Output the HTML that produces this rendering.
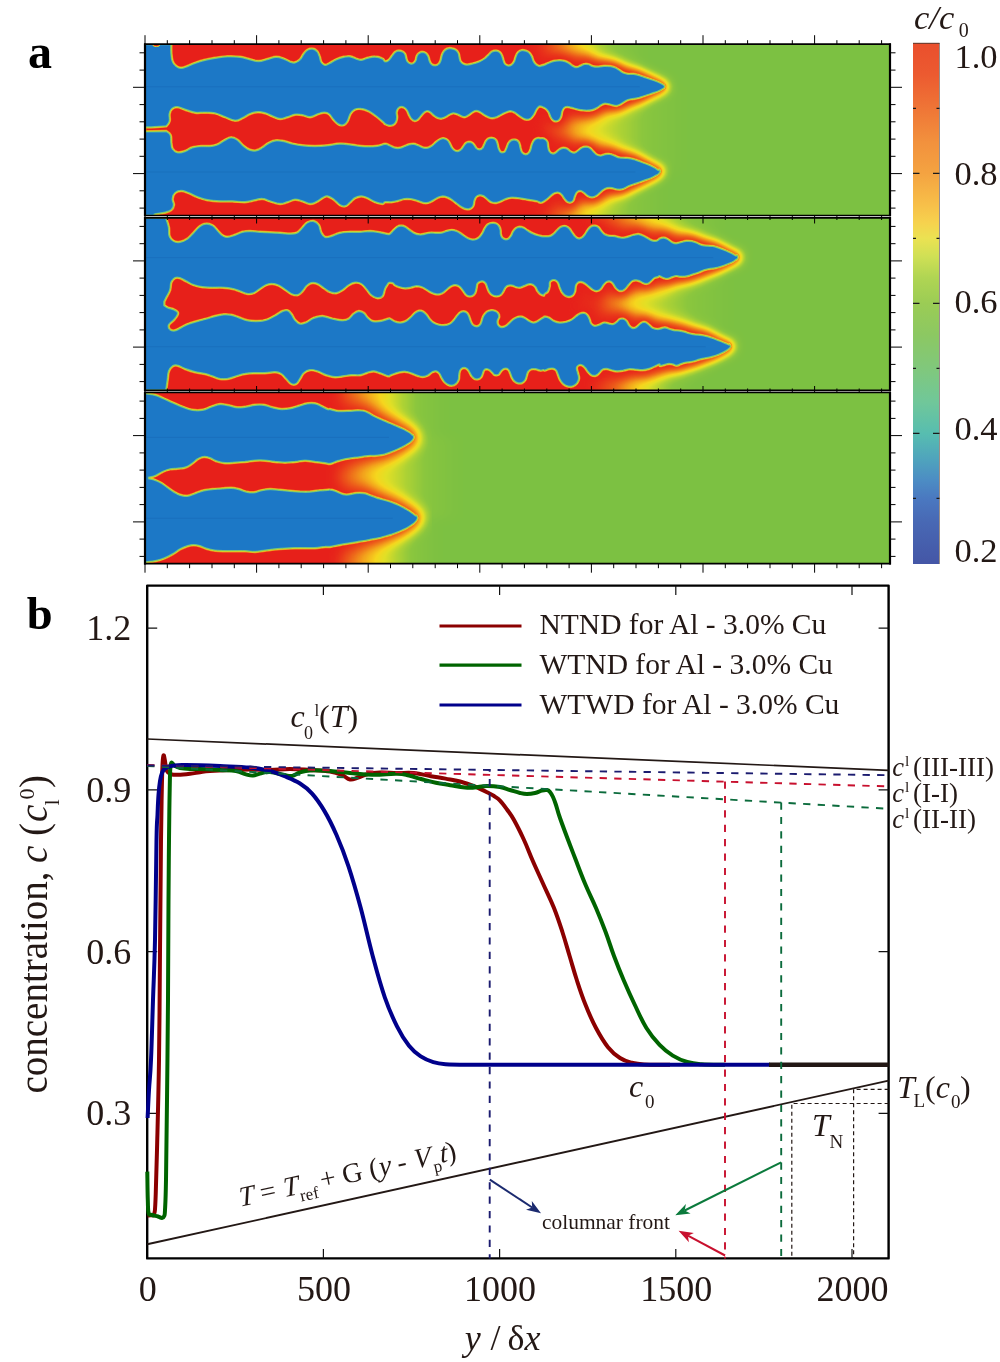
<!DOCTYPE html>
<html><head><meta charset="utf-8"><title>Figure</title><style>html,body{margin:0;padding:0;background:#fff}svg{display:block}</style></head><body>
<svg width="1000" height="1362" viewBox="0 0 1000 1362" font-family="'Liberation Serif', serif" fill="#231815">
<defs>
<filter id="cmap" x="0" y="0" width="100%" height="100%" filterUnits="objectBoundingBox" color-interpolation-filters="sRGB"><feColorMatrix type="matrix" values="0 0 0 1 0  0 0 0 1 0  0 0 0 1 0  0 0 0 0 1"/><feComponentTransfer><feFuncR type="table" tableValues="0.490 0.510 0.529 0.549 0.596 0.643 0.690 0.756 0.821 0.886 0.925 0.965 0.961 0.957 0.953 0.945 0.937 0.929 0.922 0.914 0.906"/><feFuncG type="table" tableValues="0.757 0.765 0.773 0.780 0.796 0.812 0.827 0.844 0.861 0.878 0.859 0.839 0.769 0.698 0.627 0.542 0.458 0.373 0.292 0.210 0.129"/><feFuncB type="table" tableValues="0.259 0.254 0.248 0.243 0.230 0.217 0.204 0.186 0.167 0.149 0.133 0.118 0.115 0.112 0.110 0.107 0.105 0.102 0.102 0.102 0.102"/></feComponentTransfer></filter>
<filter id="bigblur0" x="-5%" y="-60%" width="110%" height="220%" color-interpolation-filters="sRGB"><feGaussianBlur stdDeviation="7"/></filter>
<filter id="blur0" x="-5%" y="-60%" width="110%" height="220%" color-interpolation-filters="sRGB"><feGaussianBlur stdDeviation="4.8"/></filter>
<linearGradient id="hg00" gradientUnits="userSpaceOnUse" x1="528" y1="0" x2="645" y2="0"><stop offset="0" stop-color="#000" stop-opacity="1"/><stop offset="0.402" stop-color="#000" stop-opacity="0.5"/><stop offset="0.769" stop-color="#000" stop-opacity="0.1"/><stop offset="1" stop-color="#000" stop-opacity="0"/></linearGradient>
<linearGradient id="hg01" gradientUnits="userSpaceOnUse" x1="538" y1="0" x2="683.6" y2="0"><stop offset="0" stop-color="#000" stop-opacity="1"/><stop offset="0.343" stop-color="#000" stop-opacity="0.5"/><stop offset="0.769" stop-color="#000" stop-opacity="0.1"/><stop offset="1" stop-color="#000" stop-opacity="0"/></linearGradient>
<linearGradient id="hg02" gradientUnits="userSpaceOnUse" x1="535" y1="0" x2="665" y2="0"><stop offset="0" stop-color="#000" stop-opacity="1"/><stop offset="0.385" stop-color="#000" stop-opacity="0.5"/><stop offset="0.769" stop-color="#000" stop-opacity="0.1"/><stop offset="1" stop-color="#000" stop-opacity="0"/></linearGradient>
<clipPath id="cp0"><rect x="145" y="44.2" width="745" height="171.3"/></clipPath>
<path id="den0" d="M145 44.2L171.2 44.2C171.2 44.1 171.2 42.1 171.2 43.8C171.2 45.4 171 49 171.2 52.5C171.5 56 171.5 58.5 172.5 61.2C173.5 64 174.5 64.9 176.2 66.2C178 67.6 179 68 181.2 68C183.5 68 184.8 67.2 187.5 66.2C190.2 65.2 191.5 64.2 195 63C198.5 61.8 201 61 205 60C209 59 210.5 58.7 215 58C219.5 57.3 222.5 56.7 227.5 56.5C232.5 56.3 235.5 56.4 240 57C244.5 57.6 246.2 58.6 250 59.5C253.8 60.4 255.2 61.3 258.8 61.2C262.2 61.2 264 60.1 267.5 59.2C271 58.4 273 57.1 276.2 57C279.5 56.9 281 57.8 283.8 58.8C286.5 59.7 287.8 61 290 61.8C292.2 62.5 293 63 295 62.5C297 62 298.2 61.2 300 59.5C301.8 57.8 302.2 55.6 303.8 53.8C305.2 51.9 305.8 51 307.5 50C309.2 49 310.6 48.5 312.5 48.8C314.4 49 315.6 49.8 317 51.2C318.4 52.8 318.6 54.1 319.5 56.2C320.4 58.4 320.1 60.2 321.2 62C322.4 63.8 323.2 64.8 325 65C326.8 65.2 327.8 64.1 330 63C332.2 61.9 333.5 60.7 336.2 59.5C339 58.3 341 57.6 343.8 57C346.5 56.4 347.5 56.1 350 56.5C352.5 56.9 354 58 356.2 58.8C358.5 59.5 359 60.1 361.2 60C363.5 59.9 364.8 58.6 367.5 58C370.2 57.4 372 56.6 375 56.8C378 56.9 380.5 57.8 382.5 58.8C384.5 59.7 383.7 61.3 385 61.5C386.3 61.8 387.6 61.1 389 59.9C390.4 58.7 390.9 57.2 392.2 55.6C393.5 54 394.1 52.9 395.4 51.9C396.7 51 397.2 50.9 398.6 50.8C400 50.7 401 51 402.3 51.6C403.6 52.2 404.2 52.7 405 54C405.8 55.3 405.6 56.5 406.1 58C406.6 59.5 406.6 60.4 407.4 61.5C408.2 62.6 409.1 63.3 410.3 63.6C411.5 63.9 412.4 63.8 413.5 63.1C414.6 62.5 415.1 61.7 415.7 60.4C416.4 59.1 416.1 57.8 416.7 56.4C417.3 55 417.5 54.4 418.6 53.5C419.7 52.6 420.7 52 422.1 51.9C423.6 51.9 424.6 52.3 425.8 53.2C427 54.1 427.5 54.9 428.2 56.4C428.9 57.9 428.8 59.3 429.5 60.9C430.2 62.5 430.5 63.5 431.7 64.4C432.9 65.3 434 65.6 435.4 65.5C436.8 65.5 437.5 65.1 438.6 64.1C439.7 63.1 440 62.1 440.7 60.4C441.3 58.7 441.2 57.4 441.8 55.6C442.4 53.8 442.8 52.7 443.9 51.3C445 49.9 445.9 49.3 447.4 48.7C448.9 48.1 449.8 48.2 451.4 48.4C453 48.6 454 48.8 455.4 49.7C456.8 50.6 457.5 51.4 458.3 52.9C459.1 54.4 459 55.5 459.4 57.2C459.8 58.9 459.7 59.9 460.5 61.2C461.3 62.5 462 63.2 463.4 63.9C464.8 64.6 465.5 64.8 467.4 64.7C469.3 64.7 470.6 64.2 473 63.6C475.4 63 477 62.6 479.4 61.5C481.8 60.5 483.1 59.7 485 58.3C486.9 56.9 487.6 55.8 489 54.5C490.4 53.1 490.8 52.3 492.2 51.6C493.6 50.9 494.7 50.6 496.2 50.8C497.7 51 498.7 51.3 499.9 52.4C501.1 53.5 501.4 54.5 502.1 56.1C502.8 57.7 502.8 58.8 503.4 60.4C504 62 504 63 505 64.1C506 65.1 506.9 65.6 508.2 65.7C509.5 65.8 510.5 65.6 511.7 64.7C512.9 63.8 513.4 62.9 514.3 61.2C515.1 59.5 515.1 58.2 515.9 56.4C516.6 54.6 516.9 53.6 518.1 52.4C519.3 51.2 520.3 50.6 521.8 50.3C523.3 50 524.3 50.3 525.8 50.8C527.3 51.3 528.1 51.7 529.3 52.9C530.5 54.1 531 55.1 531.9 56.7C532.7 58.4 532.6 59.6 533.5 61.2C534.3 62.8 535 63.7 536.2 64.7C537.4 65.7 538.5 65.9 539.4 66.2C540.3 66.4 539.7 66.1 540.8 65.8C541.9 65.6 543 65.4 544.8 64.7C546.6 64 547.7 63.2 549.6 62.5C551.5 61.7 552.3 61.3 554.4 60.9C556.5 60.5 557.9 60.3 560 60.4C562.1 60.5 563 60.7 564.8 61.2C566.6 61.7 567.2 62.2 568.8 63.1C570.4 64.1 571.2 65.2 572.8 66C574.4 66.8 575.2 67.3 576.8 67.3C578.4 67.2 579.2 66.3 580.8 65.7C582.4 65 583.2 64.3 584.8 64.1C586.4 63.8 587.2 64 588.8 64.4C590.4 64.8 591 65.8 592.8 66.3C594.6 66.8 595.4 66.9 597.6 66.8C599.8 66.7 601.4 66.1 604 66C606.6 65.9 608.2 66 610.4 66.3C612.6 66.6 613.4 66.9 615.2 67.6C617 68.3 617.6 69 619.2 70C620.8 71 621.4 71.9 623.2 72.7C625 73.5 625.9 73.7 628 74C630.1 74.3 631.4 73.7 633.6 74C635.8 74.3 636.8 74.6 639.2 75.3C641.6 76 643 76.7 645.6 77.5C648.2 78.4 649.6 78.8 652 79.6C654.4 80.4 655.7 80.9 657.6 81.7C659.5 82.5 660.3 82.9 661.6 83.6C662.9 84.3 663.4 84.8 664 85.2C664.6 85.6 664.4 85 664.5 85.5C664.7 85.9 664.7 87 664.5 87.5C664.4 88 664.6 87.6 664 88.1C663.4 88.5 662.9 89 661.6 89.7C660.3 90.4 659.5 90.8 657.6 91.6C655.7 92.4 654.4 92.7 652 93.5C649.6 94.3 648.2 94.8 645.6 95.6C643 96.4 641.6 97 639.2 97.7C636.8 98.3 635.7 98.4 633.6 98.8C631.5 99.2 630.6 99.1 628.8 99.6C627 100.1 626.4 100.6 624.8 101.5C623.2 102.4 622.4 103.2 620.8 104.1C619.2 104.9 618.4 105.5 616.8 105.7C615.2 105.9 614.4 105.5 612.8 105.2C611.2 104.9 610.4 104.4 608.8 104.1C607.2 103.8 606.4 103.4 604.8 103.6C603.2 103.8 602.4 104.3 600.8 105.2C599.2 106.1 598.6 107 596.8 107.9C595 108.9 594.1 109.5 592 110C589.9 110.5 588.6 110.5 586.4 110.5C584.2 110.5 582.9 110.3 580.8 110C578.7 109.7 577.9 109.4 576 108.9C574.1 108.4 573 108 571.2 107.6C569.4 107.2 568.6 106.7 567.2 106.8C565.8 106.9 565 107 564 107.9C563 108.9 562.7 109.9 562.1 111.6C561.5 113.3 561.8 114.7 561.1 116.4C560.5 118.1 560 119.1 558.9 120.1C557.8 121 557 121.3 555.7 121.2C554.4 121.1 553.5 120.6 552.5 119.6C551.4 118.6 551.1 117.8 550.4 116.4C549.7 115 549.6 113.8 548.8 112.4C548 111 547.5 110.2 546.4 109.2C545.3 108.2 544.5 107.9 543.2 107.3C541.9 106.7 541 106.4 540 106.3C539 106.3 539 106.4 538.3 107.1C537.5 107.9 537.1 108.5 536.2 110C535.3 111.5 534.9 113.1 533.8 114.8C532.7 116.5 532 117.5 530.6 118.5C529.2 119.4 528.2 119.7 526.6 119.6C525 119.5 524.2 118.9 522.6 118C521 117.1 520.2 116.4 518.6 115.3C517 114.2 516.2 113.2 514.6 112.4C513 111.6 512.2 111.2 510.6 111.1C509 111.1 508.4 111.4 506.6 112.1C504.8 112.7 503.7 113.4 501.8 114.3C499.9 115.3 498.9 116.1 497 116.9C495.1 117.6 494 118 492.2 118C490.4 118 489.8 117.5 488.2 116.9C486.6 116.2 485.8 115.8 484.2 114.8C482.6 113.8 481.8 112.9 480.2 112.1C478.6 111.3 477.7 110.8 476.2 110.8C474.7 110.8 474.1 111.3 472.7 112.1C471.2 112.9 470.5 113.8 469 114.8C467.5 115.8 466.6 116.7 465 116.9C463.4 117.1 462.6 116.5 461 115.9C459.4 115.3 458.6 114.5 457 114C455.4 113.5 454.6 113 453 113.2C451.4 113.4 450.6 114 449 114.8C447.4 115.6 446.6 116.5 445 117.2C443.4 117.9 442.6 118.4 441 118.5C439.4 118.5 438.4 118.2 437 117.5C435.6 116.9 435.1 116.3 433.8 115.3C432.5 114.3 431.9 113.2 430.6 112.4C429.3 111.6 428.7 111.1 427.4 111.1C426.1 111.1 425.5 111.4 424.2 112.4C422.9 113.4 422.3 114.5 421 115.9C419.7 117.4 419.1 118.6 417.8 119.6C416.5 120.6 415.9 120.9 414.6 120.7C413.3 120.6 412.5 120 411.4 118.8C410.3 117.6 409.9 116.5 409 114.8C408.1 113.1 408 111.9 407.1 110.5C406.1 109 405.4 108.3 404.2 107.6C403 106.9 402.2 106.6 401 106.8C399.8 107 399 107.3 398.1 108.4C397.2 109.5 396.7 110.6 396.5 112.4C396.3 114.2 397.1 115.3 397 117.2C396.9 119.1 396.7 120.5 395.9 122C395.1 123.5 394.4 124.2 393 124.9C391.6 125.6 390.6 125.7 389 125.5C387.4 125.3 386.1 124.5 385 123.9C383.9 123.3 385.5 124 383.8 122.5C382 121 379.2 118.5 376.2 116.2C373.2 114 371.8 112.8 368.8 111.2C365.8 109.8 364 109.1 361.2 108.8C358.5 108.4 357.1 108.5 355 109.5C352.9 110.5 352 111.4 350.5 113.8C349 116.1 348.9 119 347.5 121.2C346.1 123.5 345.5 124.3 343.8 125C342 125.7 340.8 125.5 338.8 124.5C336.8 123.5 335.8 122.2 333.8 120C331.8 117.8 330.8 115.2 328.8 113.8C326.8 112.2 326 112.4 323.8 112.5C321.5 112.6 320.2 113.3 317.5 114.2C314.8 115.2 313 116.8 310 117C307 117.2 305.5 115.5 302.5 115C299.5 114.5 298 114.1 295 114.5C292 114.9 290.5 116.2 287.5 117C284.5 117.8 283 118.9 280 118.8C277 118.6 275.5 117.4 272.5 116.2C269.5 115.1 268 113.8 265 113C262 112.2 260.5 111.8 257.5 112C254.5 112.2 253 112.5 250 113.8C247 115 245.5 116.7 242.5 118C239.5 119.3 238.5 120.7 235 120.5C231.5 120.3 229 118.5 225 117C221 115.5 219 114.2 215 113.2C211 112.3 209 112.7 205 112.5C201 112.3 199 113.1 195 112.5C191 111.9 188.5 110.6 185 109.5C181.5 108.4 180.1 107.2 177.5 107C174.9 106.8 173.6 107.4 172 108.8C170.4 110.1 170 111.2 169.5 113.8C169 116.2 170.2 118.8 169.5 121.2C168.8 123.8 166.9 125.2 166.2 126.2L151 127.3 L145 127.3 L145 131.5 L151 131.5L166.2 131.2C167.1 132 169.5 132.8 170.5 135C171.5 137.2 170.8 139.8 171.2 142.5C171.7 145.2 171.2 146.8 172.5 148.8C173.8 150.8 175 152 177.5 152.5C180 153 182 152.2 185 151.2C188 150.2 189.2 148.5 192.5 147.5C195.8 146.5 197.8 146.5 201.2 146.2C204.8 146 206.8 146.6 210 146.2C213.2 145.9 214.5 145.8 217.5 144.5C220.5 143.2 222.2 141.4 225 140C227.8 138.6 228.8 137.5 231.2 137.5C233.8 137.5 235 138.2 237.5 140C240 141.8 241.2 144.2 243.8 146.2C246.2 148.2 247.5 149.2 250 150C252.5 150.8 253.8 151 256.2 150.5C258.8 150 260 149 262.5 147.5C265 146 266 144.4 268.8 143C271.5 141.6 273.2 140.8 276.2 140.5C279.2 140.2 280.5 140.6 283.8 141.2C287 141.9 288.8 142.9 292.5 143.8C296.2 144.6 298 145 302.5 145.5C307 146 310 146.2 315 146.2C320 146.2 322.5 146 327.5 145.5C332.5 145 335 143.8 340 143.8C345 143.7 347.5 144.4 352.5 145C357.5 145.6 360 146.3 365 146.5C370 146.7 373.5 146.5 377.5 146C381.5 145.5 382.5 144.1 385 144C387.5 143.9 387.9 144.9 389.8 145.6C391.7 146.3 392.7 147.2 394.6 147.7C396.5 148.2 397.5 148.3 399.4 148C401.3 147.7 402.3 147.1 404.2 146.4C406.1 145.7 407.1 145 409 144.5C410.9 144 411.9 143.8 413.8 144C415.7 144.2 416.7 144.9 418.6 145.6C420.5 146.3 421.5 147.3 423.4 147.7C425.3 148.1 426.4 148.1 428.2 147.7C430 147.3 430.6 146.8 432.2 145.6C433.8 144.4 434.6 143.2 436.2 141.9C437.8 140.6 438.7 139.9 440.2 139.2C441.7 138.5 442.4 138.2 443.9 138.4C445.3 138.6 446.2 139 447.4 140C448.6 141 448.9 142 449.8 143.5C450.7 145.1 450.9 146.3 451.9 147.7C452.8 149.1 453.4 149.7 454.6 150.4C455.8 151.1 456.5 151.4 457.8 151.2C459.1 151 459.9 150.6 461 149.6C462.1 148.6 462.4 147.7 463.4 146.4C464.4 145.1 464.7 144.1 465.8 143.2C466.9 142.3 467.7 142 469 141.9C470.3 141.9 471.1 142.1 472.2 142.9C473.3 143.6 473.7 144.5 474.6 145.6C475.5 146.7 475.6 147.5 476.5 148.3C477.5 149.1 478.2 149.6 479.4 149.6C480.6 149.6 481.3 149.3 482.3 148.3C483.2 147.4 483.4 146.3 484.2 144.8C485 143.3 485.2 142.1 486.1 140.8C487.1 139.5 487.7 138.9 489 138.4C490.3 137.9 491.2 137.8 492.5 138.1C493.9 138.3 494.8 138.7 495.7 139.7C496.7 140.7 496.8 141.6 497.3 143.2C497.8 144.8 497.8 146.1 498.3 147.7C498.8 149.3 499.4 150.3 499.9 151.2C500.4 152.1 500.2 151.8 500.8 152.1C501.3 152.4 501.9 152.5 502.6 152.5C503.3 152.5 503.9 152.3 504.4 152C505 151.7 504.8 151.8 505.3 150.9C505.8 149.9 506.3 148.7 506.9 147.2C507.6 145.7 507.6 144.6 508.5 143.2C509.4 141.8 510.1 141 511.4 140.3C512.7 139.6 513.6 139.5 514.9 139.7C516.3 139.9 517.2 140.3 518.1 141.3C519.1 142.3 519.2 143.2 519.7 144.8C520.2 146.4 520.2 147.7 520.7 149.3C521.2 150.9 521.3 151.8 522.3 152.8C523.2 153.8 524.2 154.3 525.5 154.4C526.8 154.5 527.7 154.1 528.7 153.1C529.7 152.1 530 151 530.6 149.3C531.2 147.6 531.2 146.3 531.9 144.5C532.6 142.7 533.1 141.5 534.1 140.3C535.1 139.1 535.8 138.8 537 138.4C538.2 138 538.6 138.3 540 138.4C541.4 138.5 542.6 138.1 544 138.7C545.4 139.4 546.4 140.1 547.2 141.6C548 143.1 547.6 144.5 548 146.4C548.4 148.3 548.4 149.8 549.3 151.2C550.2 152.6 551.1 153.3 552.5 153.6C553.8 153.9 554.7 153.3 556 152.5C557.3 151.7 557.8 150.5 559.2 149.6C560.6 148.7 561.6 148.2 563.2 148C564.8 147.8 565.8 148.1 567.2 148.8C568.6 149.5 569 150.7 570.4 151.5C571.8 152.3 572.8 153 574.4 152.8C576 152.6 576.9 151.4 578.4 150.4C579.9 149.4 580.4 148.4 581.9 147.7C583.5 146.9 584.5 146.7 586.1 146.7C587.7 146.8 588.5 147.1 589.9 148C591.3 148.9 591.8 149.9 593.1 151.2C594.4 152.5 594.8 153.5 596.3 154.4C597.8 155.3 598.8 155.7 600.5 155.7C602.2 155.7 603 154.7 604.8 154.4C606.6 154.1 607.7 153.8 609.6 154.1C611.5 154.3 612.5 155 614.4 155.7C616.3 156.4 617.1 157.2 619.2 157.6C621.3 158 622.6 157.8 624.8 157.9C627 158.1 628.2 158 630.4 158.4C632.6 158.8 633.6 159.2 636 160C638.4 160.8 639.8 161.4 642.4 162.4C645 163.4 646.4 163.8 648.8 164.8C651.2 165.8 652.5 166.5 654.4 167.5C656.3 168.6 657.5 169.7 658.4 170.1C659.3 170.4 658.7 168.9 659.1 169.2C659.5 169.5 660.4 170.7 660.3 171.7C660.2 172.6 659.7 173.1 658.7 173.9C657.7 174.8 656.9 175.1 655.2 176C653.5 176.9 652.5 177.5 650.4 178.4C648.3 179.3 647 179.5 644.8 180.3C642.6 181.1 641.3 181.7 639.2 182.4C637.1 183.1 636.3 183.4 634.4 184C632.5 184.6 631.4 184.9 629.6 185.6C627.8 186.3 627.2 186.9 625.6 187.7C624 188.4 623.4 189 621.6 189.3C619.8 189.6 618.7 189.5 616.8 189.3C614.9 189 613.9 188.3 612 188C610.1 187.7 609 187.6 607.2 188C605.4 188.4 604.7 188.9 603.2 189.9C601.7 190.9 601 191.9 599.5 193.1C598.1 194.3 597.5 195.2 596 196C594.5 196.8 593.6 197.3 592 197.3C590.4 197.3 589.5 196.8 588 196C586.5 195.2 585.9 194.1 584.5 193.1C583 192.1 582.3 191.1 580.8 190.9C579.3 190.7 578.3 191 577.1 192C575.9 193 575.6 194.3 574.9 196C574.1 197.7 574.2 199.2 573.3 200.5C572.4 201.8 571.6 202.2 570.4 202.4C569.2 202.6 568.4 202.4 567.2 201.6C566 200.8 565.4 199.8 564.3 198.4C563.2 197 562.8 195.6 561.6 194.4C560.4 193.2 559.8 192.7 558.4 192.5C557 192.2 556 192.4 554.4 193.1C552.8 193.8 552 194.7 550.4 196C548.8 197.3 548 198.3 546.4 199.5C544.8 200.7 543.7 201.5 542.4 202.1C541.1 202.7 541.1 202.6 540 202.4C538.9 202.2 538.9 201.6 537 201.1C535.1 200.6 533.2 200.4 530.6 200C528 199.6 526.8 199.3 524.2 198.9C521.6 198.5 520.4 198.2 517.8 197.9C515.2 197.7 513.8 197.4 511.4 197.6C509 197.8 507.9 198.2 505.8 198.9C503.7 199.6 502.9 200.4 501 201.1C499.1 201.9 498.1 202.5 496.2 202.7C494.3 202.9 493.2 202.8 491.4 202.1C489.6 201.4 489 200.4 487.4 199.2C485.8 198 485 196.8 483.4 196C481.8 195.2 480.8 195 479.4 195.2C478 195.4 477.2 195.7 476.2 196.8C475.2 197.9 474.9 199 474.3 200.8C473.7 202.6 474.1 204.1 473.3 205.6C472.6 207.1 471.9 207.8 470.6 208.5C469.3 209.2 468.4 209.4 466.6 209.1C464.8 208.9 463.7 208.3 461.8 207.2C459.9 206.1 458.9 205.1 457 203.7C455.1 202.2 454.1 201.3 452.2 200C450.3 198.7 449.3 198 447.4 197.3C445.5 196.5 444.5 196.3 442.6 196.3C440.7 196.4 439.7 196.8 437.8 197.6C435.9 198.4 434.9 199.5 433 200.5C431.1 201.5 430.1 202.3 428.2 202.7C426.3 203.2 425.6 203.2 423.4 202.7C421.2 202.3 419.6 201.2 417 200.5C414.4 199.7 413.2 199.2 410.6 198.9C408 198.6 406.8 198.5 404.2 198.9C401.6 199.3 400.4 200.2 397.8 200.8C395.2 201.4 394 201.8 391.4 202.1C388.8 202.3 386.8 201.7 385 202.1C383.2 202.4 384.5 203.8 382.5 203.8C380.5 203.7 378 203.2 375 202C372 200.8 370.2 199.2 367.5 198C364.8 196.8 363.8 196.2 361.2 196.2C358.8 196.2 357.2 196.8 355 198C352.8 199.2 352 200.8 350 202.5C348 204.2 347 205.8 345 206.2C343 206.8 342.2 206.3 340 205C337.8 203.7 336.2 201.2 333.8 199.5C331.2 197.8 329.8 196.6 327.5 196.2C325.2 195.9 324.8 196.8 322.5 198C320.2 199.2 318.8 200.8 316.2 202C313.8 203.2 312.8 203.9 310 203.8C307.2 203.6 305.5 202.1 302.5 201.2C299.5 200.4 298 199.3 295 199.5C292 199.7 290.5 201.2 287.5 202C284.5 202.8 283.5 203.9 280 203.8C276.5 203.6 273.5 202.2 270 201.2C266.5 200.2 265.5 199 262.5 198.8C259.5 198.5 258.5 199.3 255 200C251.5 200.7 249.5 201.8 245 202C240.5 202.2 237.5 201.4 232.5 201.2C227.5 201.1 225 201.5 220 201.2C215 201 212 200.8 207.5 200C203 199.2 201.2 198.4 197.5 197C193.8 195.6 192 194.2 188.8 193C185.5 191.8 184 190.8 181.2 190.8C178.5 190.8 176.8 191.4 175 193C173.2 194.6 172.8 196.3 172.5 198.8C172.2 201.2 174 202.8 173.8 205C173.5 207.2 173 208.5 171.2 210C169.5 211.5 168.2 211.7 165 212.5C161.8 213.3 157 213.7 155 214.2C153 214.8 155 215.2 155 215.5L145 215.5 Z"/>
<clipPath id="dc0"><use href="#den0"/></clipPath>
<filter id="bigblur1" x="-5%" y="-60%" width="110%" height="220%" color-interpolation-filters="sRGB"><feGaussianBlur stdDeviation="7"/></filter>
<filter id="blur1" x="-5%" y="-60%" width="110%" height="220%" color-interpolation-filters="sRGB"><feGaussianBlur stdDeviation="4.8"/></filter>
<linearGradient id="hg10" gradientUnits="userSpaceOnUse" x1="585" y1="0" x2="721.5" y2="0"><stop offset="0" stop-color="#000" stop-opacity="1"/><stop offset="0.462" stop-color="#000" stop-opacity="0.5"/><stop offset="0.769" stop-color="#000" stop-opacity="0.1"/><stop offset="1" stop-color="#000" stop-opacity="0"/></linearGradient>
<linearGradient id="hg11" gradientUnits="userSpaceOnUse" x1="575" y1="0" x2="731" y2="0"><stop offset="0" stop-color="#000" stop-opacity="1"/><stop offset="0.365" stop-color="#000" stop-opacity="0.5"/><stop offset="0.769" stop-color="#000" stop-opacity="0.1"/><stop offset="1" stop-color="#000" stop-opacity="0"/></linearGradient>
<linearGradient id="hg12" gradientUnits="userSpaceOnUse" x1="590" y1="0" x2="696.6" y2="0"><stop offset="0" stop-color="#000" stop-opacity="1"/><stop offset="0.422" stop-color="#000" stop-opacity="0.5"/><stop offset="0.769" stop-color="#000" stop-opacity="0.1"/><stop offset="1" stop-color="#000" stop-opacity="0"/></linearGradient>
<clipPath id="cp1"><rect x="145" y="217.8" width="745" height="172.5"/></clipPath>
<path id="den1" d="M145 217.8L166.2 217.8C166.2 218 165.8 216.8 166.2 218.8C166.8 220.7 168.1 224 168.8 227.5C169.4 231 168.5 233.5 169.5 236.2C170.5 239 171.7 240.1 173.8 241.2C175.8 242.4 177.2 242.5 180 242C182.8 241.5 184.8 240.7 187.5 238.8C190.2 236.8 191.2 235 193.8 232.5C196.2 230 197.5 228 200 226.2C202.5 224.5 203.8 223.9 206.2 223.8C208.8 223.6 210.2 224.2 212.5 225.5C214.8 226.8 215.5 228.5 217.5 230.5C219.5 232.5 220.5 234.2 222.5 235.5C224.5 236.8 225 237.1 227.5 237C230 236.9 232 236 235 235C238 234 239.5 232.8 242.5 232C245.5 231.2 246.5 231.2 250 231.2C253.5 231.2 256 231.8 260 232C264 232.2 266 232.3 270 232.5C274 232.7 276 232.8 280 233C284 233.2 286.5 233.8 290 233.8C293.5 233.7 295 233.8 297.5 232.5C300 231.2 300.5 229.5 302.5 227.5C304.5 225.5 305.2 223.8 307.5 222.5C309.8 221.2 311.5 220.8 313.8 221.2C316 221.8 317.2 222.8 318.8 225C320.2 227.2 320 230.1 321.2 232.5C322.5 234.9 323 236.2 325 237C327 237.8 328.2 237.1 331.2 236.2C334.2 235.4 336.2 233.8 340 233C343.8 232.2 346 232.2 350 232C354 231.8 356 232.2 360 232C364 231.8 366 231.2 370 231.2C374 231.3 376.4 231.9 380 232.5C383.6 233.1 386 234 388 234.2C390 234.5 389 234.5 390 233.8C391 233.1 391.8 232 393.2 230.6C394.6 229.2 395.6 227.9 397.2 226.9C398.8 226 399.6 225.8 401.2 225.8C402.8 225.8 403.6 226.1 405.2 226.9C406.8 227.7 407.4 228.6 409.2 229.8C411 231 411.9 232 414 233C416.1 234 417.4 234.4 419.6 234.6C421.8 234.8 423 234.2 425.2 233.8C427.4 233.4 428.6 232.8 430.8 232.7C433 232.5 434.2 233 436.4 233C438.6 233 439.9 233.1 442 232.7C444.1 232.3 444.9 231.6 446.8 231.1C448.7 230.6 449.7 230.1 451.6 230.1C453.5 230.1 454.6 230.4 456.4 231.1C458.2 231.7 458.8 232.3 460.4 233.3C462 234.3 462.8 235.1 464.4 236.2C466 237.3 466.8 237.9 468.4 238.6C470 239.3 470.8 239.6 472.4 239.7C474 239.8 475 239.6 476.4 239.1C477.8 238.5 478.4 238.2 479.6 237C480.8 235.8 481.5 234.7 482.5 233C483.5 231.3 483.7 230.2 484.7 228.5C485.7 226.9 486.2 225.8 487.6 224.7C489 223.6 490 223.3 491.6 223.1C493.2 222.8 494.2 222.9 495.6 223.4C497 223.9 497.8 224.5 498.8 225.8C499.8 227.1 500 228.1 500.4 229.8C500.8 231.5 500.3 232.7 500.7 234.3C501.1 235.9 501.4 236.8 502.3 237.8C503.3 238.8 504.2 239.2 505.5 239.4C506.8 239.6 507.6 239.4 508.7 238.6C509.9 237.8 510.4 236.8 511.3 235.4C512.2 234 512.2 232.8 513.2 231.4C514.2 230 514.8 229.1 516.1 228.2C517.4 227.3 518.1 227 519.6 226.9C521.1 226.9 522 227.1 523.6 227.9C525.2 228.6 525.8 229.5 527.6 230.6C529.4 231.7 530.3 232.4 532.4 233.3C534.5 234.3 535.9 234.8 538 235.4C540.1 236 541.4 236.1 542.8 236.4C544.2 236.6 543.6 236.6 545 236.5C546.4 236.5 548 236.7 549.8 236.2C551.6 235.7 552.2 235.1 553.8 233.8C555.4 232.5 556.2 230.9 557.8 229.5C559.4 228 560.2 227.2 561.8 226.6C563.4 226 564.3 225.9 565.8 226.3C567.3 226.7 568 227.2 569.3 228.5C570.6 229.8 571 231.1 572.2 232.7C573.4 234.3 573.8 235.3 575.1 236.5C576.4 237.7 577.2 238.4 578.6 238.6C580 238.8 580.8 238.3 582.1 237.5C583.4 236.6 583.8 235.8 585 234.3C586.2 232.7 586.7 231.3 587.9 229.8C589.1 228.3 589.7 227.4 591.1 226.6C592.5 225.8 593.4 225.6 594.9 225.8C596.4 226 597.3 226.3 598.6 227.4C599.9 228.5 600.1 229.7 601.3 231.1C602.5 232.5 603 233.3 604.5 234.3C606.1 235.2 607 235.5 609 235.9C611 236.3 612.5 235.9 614.6 236.2C616.7 236.5 617.5 237.2 619.4 237.5C621.3 237.8 622.3 238 624.2 237.8C626.1 237.6 627.1 237.1 629 236.5C630.9 235.9 631.9 235.4 633.8 234.9C635.7 234.5 636.7 234.1 638.6 234.3C640.5 234.5 641.5 235 643.4 235.9C645.3 236.7 646.4 237.6 648.2 238.6C650 239.6 650.8 240.3 652.5 240.7C654.3 241.1 655.5 241.1 657 240.7C658.5 240.3 658.6 239.2 660 238.6C661.4 238 662.4 237.6 664 237.8C665.6 238 666.4 238.5 668 239.4C669.6 240.3 670.4 241.5 672 242.3C673.6 243.1 674.2 243.4 676 243.4C677.8 243.4 678.7 242.8 680.8 242.3C682.9 241.8 684.2 241.2 686.4 241C688.6 240.8 689.9 240.9 692 241.3C694.1 241.7 694.9 242.2 696.8 242.9C698.7 243.7 699.5 244.4 701.6 245C703.7 245.6 705 245.6 707.2 245.8C709.4 246 710.6 245.7 712.8 246.1C715 246.5 716.2 247 718.4 247.7C720.6 248.5 721.9 249 724 249.8C726.1 250.6 727 251.1 728.8 251.9C730.6 252.7 731.4 253 732.8 253.8C734.2 254.6 735.2 255.5 736 255.7C736.8 255.9 736.5 254.5 736.9 254.8C737.3 255.1 738.1 256.3 738.1 257.3C738.1 258.3 737.2 259.4 736.9 259.8C736.6 260.2 737.1 259.1 736.5 259.4C735.8 259.7 735 260.7 733.6 261.5C732.2 262.3 731.4 262.6 729.6 263.4C727.8 264.2 726.7 264.6 724.8 265.3C722.9 266 722.1 266.3 720 266.9C717.9 267.5 716.6 267.8 714.4 268.2C712.2 268.6 710.9 268.6 708.8 269C706.7 269.4 705.9 269.5 704 270.1C702.1 270.8 701.1 271.5 699.2 272.2C697.3 272.9 696.3 273.2 694.4 273.8C692.5 274.4 691.5 274.9 689.6 275.4C687.7 275.9 686.7 276.3 684.8 276.5C682.9 276.7 681.8 276.6 680 276.5C678.2 276.4 677.6 275.8 676 275.9C674.4 276 673.6 276.5 672 277C670.4 277.5 669.6 278.4 668 278.6C666.4 278.8 665.6 278.6 664 278.1C662.4 277.6 661 276.6 660 276.2C659 275.8 659.2 276.1 658.8 276.2C658.3 276.4 658.6 276.7 657.8 277C657 277.3 655.9 277.1 654.6 277.8C653.3 278.5 652.7 279.6 651.4 280.7C650.1 281.8 649.6 282.9 648.2 283.4C646.8 283.9 645.8 283.8 644.2 283.4C642.6 283 641.8 282 640.2 281.3C638.6 280.7 637.8 280.3 636.2 280.2C634.6 280.1 633.6 280.2 632.2 281C630.8 281.8 630.3 282.8 629 284.2C627.7 285.6 627.1 286.9 625.8 288.2C624.5 289.5 624 290.2 622.6 290.6C621.2 291 620 290.9 618.6 290.3C617.2 289.6 616.5 288.8 615.4 287.4C614.3 286 614.1 284.6 613 283.4C611.9 282.2 611.1 281.6 609.8 281.3C608.5 281 607.9 281.1 606.6 281.8C605.3 282.5 604.6 283.6 603.4 285C602.2 286.4 602 287.8 600.7 289C599.4 290.2 598.5 290.8 597 290.9C595.5 291.1 594.6 290.7 593 289.8C591.4 288.9 590.6 287.9 589 286.6C587.4 285.3 586.6 284.4 585 283.4C583.4 282.4 582.4 282 581 281.8C579.6 281.6 578.9 281.8 577.8 282.6C576.7 283.4 576.3 284.1 575.7 285.8C575.2 287.5 575.6 289.1 575.1 290.9C574.5 292.8 574.2 293.9 573 295.1C571.8 296.2 570.6 296.6 569 296.7C567.4 296.7 566.4 296.4 565 295.4C563.6 294.4 562.9 293.5 561.8 291.9C560.7 290.2 560.5 288.9 559.7 287.1C559 285.2 559 284 558.1 282.6C557.3 281.2 556.6 280.7 555.4 280.2C554.2 279.7 553.3 279.8 552.2 280.2C551.1 280.6 550.3 281 549.8 282.3C549.3 283.6 549.9 284.8 549.5 286.6C549.1 288.4 548.8 290 547.9 291.4C547 292.8 545.8 292.8 545 293.5C544.2 294.2 544 294.6 543.8 295C543.5 295.4 544.3 295.6 543.6 295.4C542.9 295.2 541.6 295 540.4 294.1C539.2 293.2 538.5 292.3 537.5 290.9C536.6 289.5 536.6 288.4 535.6 287.1C534.6 285.8 533.8 285.1 532.4 284.5C531 283.9 530 283.9 528.4 284.2C526.8 284.5 526 285.2 524.4 285.8C522.8 286.4 522 287.1 520.4 287.4C518.8 287.7 518 287.5 516.4 287.1C514.8 286.7 514 285.8 512.4 285.5C510.8 285.2 509.8 285.1 508.4 285.5C507 285.9 506.5 286.2 505.5 287.4C504.5 288.6 504.3 289.9 503.3 291.4C502.3 292.9 501.8 294.1 500.4 295.1C499 296 498 296.2 496.4 296.2C494.8 296.2 493.8 295.9 492.4 295.1C491 294.2 490.2 293.4 489.2 291.9C488.2 290.3 488 289.1 487.3 287.4C486.6 285.7 486.6 284.6 485.7 283.4C484.8 282.2 484 281.6 482.8 281.3C481.6 281 480.7 281.3 479.6 281.8C478.5 282.3 477.8 282.6 477.2 283.9C476.6 285.2 476.8 286.4 476.4 288.2C476 290 475.9 291.5 475.1 293C474.3 294.5 473.7 295.1 472.4 295.7C471.1 296.4 470.1 296.5 468.7 296.2C467.3 295.9 466.7 295.3 465.5 294.1C464.3 292.9 464 291.8 462.8 290.3C461.6 288.8 461 287.7 459.6 286.6C458.2 285.5 457.2 285.2 455.6 285C454 284.8 453.2 285.1 451.6 285.8C450 286.5 449.2 287.4 447.6 288.7C446 290 445.2 291.1 443.6 292.2C442 293.3 441.2 293.7 439.6 294.1C438 294.5 437.3 294.4 435.6 294.1C433.9 293.8 433 293.4 431.3 292.5C429.5 291.7 428.7 290.9 426.8 289.8C424.9 288.7 424.1 287.8 422 287.1C419.9 286.3 418.6 286.1 416.4 286.1C414.2 286.2 413 287 410.8 287.4C408.6 287.8 407.4 288.3 405.2 288.2C403 288.1 401.7 287.7 399.6 287.1C397.5 286.4 396.1 285.8 394.8 285C393.5 284.2 394.2 283.8 393.3 283.3C392.3 282.8 391 282.6 390 282.6C389 282.6 388.8 282.8 388.3 283.2C387.8 283.6 388.2 283.4 387.5 284.5C386.8 285.6 386 286.4 385 288.8C384 291.1 384 294.4 382.5 296.2C381 298.1 379.8 298.2 377.5 298C375.2 297.8 373.5 296.9 371.2 295C369 293.1 368.2 291 366.2 288.8C364.2 286.5 363.5 285 361.2 283.8C359 282.5 357.5 282.2 355 282.5C352.5 282.8 351.2 283.5 348.8 285C346.2 286.5 345 288.4 342.5 290C340 291.6 338.8 292.6 336.2 293C333.8 293.4 332.5 293 330 292C327.5 291 326.2 289.6 323.8 288C321.2 286.4 320 284.8 317.5 283.8C315 282.8 313.5 282.5 311.2 283C309 283.5 308 284.6 306.2 286.2C304.5 287.9 304.2 289.5 302.5 291.2C300.8 293 299.8 294.5 297.5 295C295.2 295.5 293.8 294.9 291.2 293.8C288.8 292.6 287.5 291.1 285 289.5C282.5 287.9 281.2 286.6 278.8 285.5C276.2 284.4 275 283.9 272.5 283.8C270 283.6 268.8 284 266.2 285C263.8 286 262.5 287.1 260 288.8C257.5 290.4 256.2 292 253.8 293C251.2 294 250.2 294.1 247.5 293.8C244.8 293.4 243 292.2 240 291.2C237 290.2 236 289.5 232.5 288.8C229 288 226.5 287.8 222.5 287.5C218.5 287.2 216.5 287.6 212.5 287.5C208.5 287.4 206.2 287.5 202.5 287C198.8 286.5 197 286.1 193.8 285C190.5 283.9 189 282.6 186.2 281.2C183.5 279.9 182.2 278.6 180 278C177.8 277.4 176.8 277.1 175 278C173.2 278.9 172.2 280.1 171.2 282.5C170.2 284.9 171 287 170 290C169 293 167.4 295.2 166.2 297.5C165.1 299.8 164.7 300.7 164.2 301.5L164.2 305.5C164.9 305.9 165.6 306.7 167.5 307.5C169.4 308.3 171.8 308.6 173.8 309.5C175.8 310.4 176.8 310.9 177.5 312C178.2 313.1 178.2 313.4 177.5 315C176.8 316.6 175.5 318 173.8 320C172 322 169.5 323.1 168.8 325C168 326.9 168.8 328.4 170 329.5C171.2 330.6 172.8 330.9 175 330.5C177.2 330.1 178.5 328.9 181.2 327.5C184 326.1 185.5 325 188.8 323.8C192 322.5 194 322.2 197.5 321.2C201 320.2 202.8 319.8 206.2 318.8C209.8 317.8 211.5 317.1 215 316.2C218.5 315.4 220.5 314.8 223.8 314.5C227 314.2 228.2 314.4 231.2 315C234.2 315.6 235.5 316.4 238.8 317.5C242 318.6 243.8 319.8 247.5 320.5C251.2 321.2 253.5 321.4 257.5 321.2C261.5 321.1 263.8 320.8 267.5 319.5C271.2 318.2 273.2 316.6 276.2 315C279.2 313.4 280.2 312.1 282.5 311.2C284.8 310.4 285.8 310 287.5 310.5C289.2 311 289.8 311.9 291.2 313.8C292.8 315.6 293.2 318 295 320C296.8 322 297.8 323.2 300 323.8C302.2 324.2 303.5 323.6 306.2 322.5C309 321.4 310.5 319.2 313.8 318C317 316.8 318.8 316.1 322.5 316.2C326.2 316.4 328.5 317.9 332.5 318.8C336.5 319.6 339.2 320.5 342.5 320.5C345.8 320.5 346.5 320.1 348.8 318.8C351 317.4 351.8 315.2 353.8 313.8C355.8 312.2 356.8 311.4 358.8 311.2C360.8 311.1 362 311.8 363.8 313C365.5 314.2 365.8 315.9 367.5 317.5C369.2 319.1 370 320.5 372.5 321.2C375 322 376.9 321.7 380 321.2C383.1 320.8 386 319.5 388 319C390 318.5 388.6 318.4 390 318.9C391.4 319.4 392.7 320.8 394.8 321.6C396.9 322.4 398.2 322.8 400.4 322.7C402.6 322.6 403.9 322.2 406 321.1C408.1 320 409 318.9 410.8 317.3C412.6 315.7 413.2 314.4 414.8 313.1C416.4 311.8 417.2 311.2 418.8 310.9C420.4 310.6 421.3 310.8 422.8 311.5C424.3 312.3 425.1 313.2 426.5 314.7C427.9 316.3 428.3 317.6 429.7 319.2C431.1 320.8 431.7 321.6 433.5 322.7C435.3 323.8 436.6 324.3 438.8 324.8C441 325.3 442.2 325.5 444.4 325.3C446.6 325.1 448.1 324.7 450 323.7C451.9 322.6 452.6 321.6 454 320C455.4 318.4 455.9 317.2 457.2 315.7C458.5 314.2 459.1 313.3 460.4 312.5C461.7 311.6 462.6 311.4 463.9 311.5C465.3 311.6 466.1 312.1 467.1 313.1C468.2 314.2 468.5 315.1 469.2 316.8C469.9 318.5 470 319.9 470.8 321.6C471.6 323.3 471.9 324.3 473.2 325.3C474.5 326.2 475.8 326.6 477.2 326.4C478.6 326.2 479.4 325.6 480.4 324.3C481.4 323 481.4 321.7 482 320C482.6 318.3 482.6 317.3 483.6 315.7C484.6 314.1 485.4 313.1 486.8 312C488.2 310.9 489.2 310.6 490.8 310.4C492.4 310.2 493.4 310.3 494.8 310.9C496.2 311.4 497.1 311.9 498 313.1C498.9 314.3 499.2 315.3 499.1 316.8C499 318.3 497.7 319.2 497.5 320.8C497.3 322.4 497.3 323.5 498 324.8C498.7 326.1 499.8 326.9 501.2 327.2C502.6 327.5 503.6 327.2 505.2 326.4C506.8 325.6 507.6 324.6 509.2 323.2C510.8 321.8 511.6 320.7 513.2 319.5C514.8 318.3 515.6 317.8 517.2 317.3C518.8 316.7 519.6 316.6 521.2 316.8C522.8 317 523.6 317.5 525.2 318.4C526.8 319.3 527.6 320.3 529.2 321.1C530.8 322 531.6 322.6 533.2 322.7C534.8 322.8 535.6 322.4 537.2 321.6C538.8 320.8 539.9 319.7 541.2 318.9C542.5 318.1 542.8 318 543.6 317.6C544.4 317.2 543.9 316.7 545 316.8C546.1 316.9 547.2 317.1 549 317.9C550.8 318.8 551.7 320.2 553.8 321.1C555.9 322.1 557 322.5 559.4 322.7C561.8 322.9 563.4 322.6 565.8 322.1C568.2 321.5 569.3 321.2 571.4 320C573.5 318.8 574.4 317.6 576.2 316.3C578 315 578.6 314.2 580.2 313.6C581.8 313 582.8 312.8 584.2 313.1C585.6 313.4 586.3 314 587.4 315.2C588.5 316.4 588.7 317.5 589.5 319.2C590.2 320.9 590.1 322.3 591.1 323.7C592.1 325 592.9 325.7 594.6 325.9C596.3 326.1 597.5 325.4 599.4 324.8C601.3 324.2 602.3 322.9 604.2 322.7C606.1 322.5 607.2 323.4 609 323.7C610.8 324 611.5 324.6 613 324.3C614.5 324 615.3 323.1 616.7 322.1C618.1 321.1 618.5 319.8 619.9 319.2C621.2 318.6 622.1 318.5 623.4 318.9C624.7 319.3 625.5 319.8 626.6 321.1C627.7 322.4 627.9 323.9 629 325.3C630.1 326.7 630.8 327.6 632.2 328C633.6 328.4 634.5 328.2 635.9 327.5C637.3 326.9 637.8 325.8 639.1 324.8C640.4 323.8 640.9 322.9 642.3 322.4C643.6 321.9 644.5 321.9 645.8 322.4C647.1 322.9 647.7 323.7 649 324.8C650.3 325.9 650.9 327.1 652.5 328C654.1 328.9 655.5 329 657 329.1C658.5 329.3 658.4 329.1 660 328.8C661.6 328.5 662.9 327.5 664.8 327.5C666.7 327.6 667.7 328.5 669.6 329.1C671.5 329.7 672.5 330.1 674.4 330.4C676.3 330.7 677.3 330.5 679.2 330.7C681.1 331 682.1 331.2 684 331.7C685.9 332.2 686.7 332.7 688.8 333.3C690.9 333.8 692.2 334.1 694.4 334.4C696.6 334.7 697.8 334.6 700 334.9C702.2 335.2 703.4 335.5 705.6 336C707.8 336.5 709 336.9 711.2 337.6C713.4 338.3 714.6 338.8 716.8 339.7C719 340.5 720.5 341.2 722.4 341.9C724.3 342.7 725.1 342.9 726.4 343.5C727.7 344.1 728.5 344.7 729.1 344.8C729.7 344.9 729.2 343.6 729.5 343.9C729.8 344.2 730.7 345.5 730.7 346.4C730.7 347.3 730.4 347.5 729.6 348.3C728.8 349.1 728.2 349.6 726.9 350.4C725.6 351.2 724.9 351.6 723.2 352.5C721.5 353.3 720.3 354 718.4 354.7C716.5 355.5 715.5 355.7 713.6 356.3C711.7 356.9 710.7 357.2 708.8 357.6C706.9 358 705.9 358 704 358.4C702.1 358.8 701.1 359 699.2 359.5C697.3 360.1 696.3 360.6 694.4 361.1C692.5 361.6 691.5 361.8 689.6 362.1C687.7 362.4 686.6 362.3 684.8 362.7C683 363.1 682.4 363.4 680.8 364C679.2 364.6 678.4 365.5 676.8 365.6C675.2 365.7 674.4 364.7 672.8 364.3C671.2 363.9 670.4 363.6 668.8 363.7C667.2 363.8 666.6 364.4 664.8 364.8C663 365.2 661.1 366 660 365.9C658.9 365.8 660.5 364.2 659.4 364.3C658.3 364.4 656.7 365.5 654.6 366.4C652.5 367.3 651.4 368.1 649 368.8C646.6 369.5 645.2 369.9 642.6 370.1C640 370.2 638.8 369.8 636.2 369.6C633.6 369.4 632.4 369 629.8 369.1C627.2 369.3 626 370 623.4 370.4C620.8 370.8 619.4 371.3 617 371.2C614.6 371.1 613.5 370.6 611.4 370.1C609.3 369.6 608.4 368.9 606.6 368.8C604.8 368.7 603.7 368.8 602.3 369.6C600.8 370.4 600.7 371.6 599.4 372.8C598.1 374 597.4 375 595.9 375.5C594.3 376 593.3 375.9 591.7 375.2C590.2 374.5 589.5 373.4 588.2 372C586.9 370.6 586.5 369.3 585.3 368C584.1 366.7 583.5 365.8 582.1 365.3C580.8 364.7 579.7 364.7 578.6 365.3C577.5 365.8 576.8 366.5 576.7 368C576.5 369.5 577.4 370.7 577.8 372.8C578.2 374.9 579.1 376.3 578.9 378.4C578.8 380.5 578.2 381.7 577 383.2C575.8 384.7 574.8 385.4 573 386.1C571.2 386.7 570.1 386.8 568.2 386.4C566.3 386 565 385.3 563.4 384C561.8 382.7 561.3 381.8 560.2 380C559.1 378.2 558.9 376.8 558.1 374.9C557.3 373 557.2 371.7 556.2 370.4C555.2 369.1 554.4 368.8 553 368.5C551.6 368.2 550.6 368.4 549 368.8C547.4 369.2 546.1 370.2 545 370.4C543.9 370.6 544.5 369.9 543.6 369.9C542.7 369.9 542 370.6 540.4 370.4C538.8 370.2 537.4 369.4 535.6 369.1C533.8 368.9 533 368.7 531.6 369.1C530.2 369.5 529.4 370 528.4 371.2C527.4 372.4 527.4 373.4 526.8 375.2C526.2 377 526.2 378.5 525.2 380C524.2 381.5 523.4 382.2 522 382.9C520.6 383.5 519.5 383.5 518 383.2C516.5 382.9 515.7 382.4 514.5 381.3C513.3 380.2 512.8 379.2 511.9 377.6C511.1 376 511 374.9 510.3 373.3C509.6 371.7 509.4 370.6 508.4 369.6C507.4 368.6 506.5 368.4 505.2 368.5C503.9 368.6 503.1 369.1 502 370.1C500.9 371 500.3 372.4 499.6 373.3C498.9 374.2 499.2 374.2 498.6 374.6C497.9 375 497.3 375.2 496.4 375.2C495.5 375.2 494.9 375 494.2 374.7C493.6 374.4 494 374.5 493.2 373.6C492.4 372.7 491.3 371.3 490 370.4C488.7 369.5 488 369.2 486.8 369.1C485.6 369.1 484.9 369.2 484.1 370.1C483.3 370.9 483.4 371.9 482.8 373.3C482.2 374.7 482.2 375.9 481.2 377.1C480.2 378.3 479.3 378.9 478 379.2C476.7 379.5 475.8 379.4 474.5 378.7C473.2 378.1 472.7 377.4 471.6 376C470.5 374.6 470.2 373.2 469.2 371.7C468.2 370.2 467.8 369.2 466.5 368.5C465.2 367.7 464.1 367.6 462.8 368C461.5 368.4 460.8 369 460.1 370.4C459.3 371.8 459.4 373 459.1 374.9C458.8 376.8 459.2 378.2 458.5 380C457.8 381.8 457 382.9 455.6 384C454.2 385.1 453.2 385.5 451.6 385.6C450 385.7 449.1 385.3 447.6 384.5C446.1 383.7 445.3 383 444.1 381.6C442.9 380.2 442.5 379.3 441.5 377.6C440.6 375.9 440.4 374.6 439.3 373.3C438.2 372 437.6 371.4 436.1 371.2C434.6 371 433.6 371.5 431.9 372.3C430.2 373.2 429.4 374.6 427.6 375.5C425.8 376.4 424.9 376.8 422.8 376.8C420.7 376.8 419.4 376.2 417.2 375.5C415 374.8 413.8 374 411.6 373.3C409.4 372.5 408.2 371.9 406 371.7C403.8 371.4 402.6 371.6 400.4 372C398.2 372.4 396.9 372.9 394.8 373.6C392.7 374.3 391.4 375 390 375.5C388.6 376 390 376.5 388 376C386 375.5 382.9 373.9 380 373C377.1 372.1 376.2 371.4 373.8 371.2C371.2 371.1 370.2 371.8 367.5 372.5C364.8 373.2 363.2 374.5 360 375C356.8 375.5 354.8 374.8 351.2 375C347.8 375.2 345.8 375.9 342.5 376.2C339.2 376.6 338.2 377.2 335 377C331.8 376.8 329.8 376.1 326.2 375C322.8 373.9 320.8 372.2 317.5 371.2C314.2 370.2 312.8 369.6 310 370C307.2 370.4 305.8 371.2 303.8 373C301.8 374.8 301.5 376.6 300 378.8C298.5 380.9 298 382.8 296.2 383.8C294.5 384.8 293.2 384.8 291.2 383.8C289.2 382.8 288.2 380.8 286.2 378.8C284.2 376.8 283.5 375.1 281.2 373.8C279 372.4 278.2 372.1 275 372C271.8 371.9 269 372.8 265 373C261 373.2 259 372.9 255 373C251 373.1 248.8 373.1 245 373.8C241.2 374.4 239.8 375.2 236.2 376.2C232.8 377.2 230.8 378.2 227.5 378.8C224.2 379.2 223 379.2 220 378.8C217 378.2 215.5 377.2 212.5 376.2C209.5 375.2 208.5 374.6 205 373.8C201.5 372.9 199 373 195 372C191 371 188.5 370.1 185 368.8C181.5 367.4 180 366 177.5 365.5C175 365 174.2 365.1 172.5 366.2C170.8 367.4 169.8 368.5 168.8 371.2C167.8 374 168 376.4 167.5 380C167 383.6 166.5 387.2 166.2 389.2C166 391.3 166.2 390.1 166.2 390.3L145 390.3 Z"/>
<clipPath id="dc1"><use href="#den1"/></clipPath>
<filter id="blur2" x="-5%" y="-60%" width="110%" height="220%" color-interpolation-filters="sRGB"><feGaussianBlur stdDeviation="6.5"/></filter>
<linearGradient id="hg20" gradientUnits="userSpaceOnUse" x1="335" y1="0" x2="445.5" y2="0"><stop offset="0" stop-color="#000" stop-opacity="1"/><stop offset="0.452" stop-color="#000" stop-opacity="0.5"/><stop offset="0.769" stop-color="#000" stop-opacity="0.1"/><stop offset="1" stop-color="#000" stop-opacity="0"/></linearGradient>
<linearGradient id="hg21" gradientUnits="userSpaceOnUse" x1="332" y1="0" x2="459.4" y2="0"><stop offset="0" stop-color="#000" stop-opacity="1"/><stop offset="0.377" stop-color="#000" stop-opacity="0.5"/><stop offset="0.769" stop-color="#000" stop-opacity="0.1"/><stop offset="1" stop-color="#000" stop-opacity="0"/></linearGradient>
<linearGradient id="hg22" gradientUnits="userSpaceOnUse" x1="335" y1="0" x2="439" y2="0"><stop offset="0" stop-color="#000" stop-opacity="1"/><stop offset="0.433" stop-color="#000" stop-opacity="0.5"/><stop offset="0.769" stop-color="#000" stop-opacity="0.1"/><stop offset="1" stop-color="#000" stop-opacity="0"/></linearGradient>
<clipPath id="cp2"><rect x="145" y="392.5" width="745" height="171.2"/></clipPath>
<path id="den2" d="M145 392.5L146.2 392.5C146.2 392.7 144.5 393 146.2 393.5C148 394 151.8 394.1 155 395C158.2 395.9 159 396.5 162.5 398C166 399.5 168.5 400.8 172.5 402.5C176.5 404.2 178.5 405.2 182.5 406.8C186.5 408.2 188.5 409.4 192.5 410C196.5 410.6 198.8 410.6 202.5 410C206.2 409.4 207.8 407.9 211.2 406.8C214.8 405.6 216.5 404.5 220 404.2C223.5 404 225.2 404.9 228.8 405.5C232.2 406.1 234 407.2 237.5 407.5C241 407.8 242.8 407.2 246.2 406.8C249.8 406.2 251.5 405.4 255 405C258.5 404.6 260.2 404.5 263.8 405C267.2 405.5 269 406.6 272.5 407.5C276 408.4 277.8 409.1 281.2 409.2C284.8 409.4 286.5 409.1 290 408.5C293.5 407.9 295.2 407 298.8 406C302.2 405 304.2 404 307.5 403.5C310.8 403 312.2 403 315 403.5C317.8 404 318.8 404.9 321.2 406C323.8 407.1 325.8 408.6 327.5 409.2C329.2 409.9 328.2 409 330 409.3C331.8 409.6 333.8 410.5 336.4 410.9C339 411.3 339.9 411.2 342.8 411.2C345.7 411.2 347.8 411 350.8 410.9C353.8 410.7 355.4 410.4 358 410.4C360.6 410.4 361.5 410.4 363.6 410.9C365.7 411.4 366.5 411.8 368.4 412.8C370.3 413.8 371.1 414.6 373.2 415.7C375.3 416.8 376.6 417.4 378.8 418.4C381 419.4 382.2 419.8 384.4 420.8C386.6 421.8 387.8 422.2 390 423.2C392.2 424.2 393.4 424.6 395.6 425.6C397.8 426.6 399.1 427 401.2 428C403.3 429 404.2 429.4 406 430.4C407.8 431.4 408.7 431.9 410 432.8C411.3 433.7 411.8 434.5 412.4 434.9C413 435.2 412.5 434.2 412.8 434.6C413.1 435.1 414 436.1 414 437.1C414 438.1 413.5 438.7 412.9 439.7C412.2 440.6 411.9 441.1 410.8 441.9C409.7 442.8 409 443.1 407.6 444C406.2 444.9 405.4 445.4 403.6 446.4C401.8 447.4 400.7 447.9 398.8 448.8C396.9 449.7 395.9 450.1 394 450.9C392.1 451.7 391.1 452.1 389.2 452.8C387.3 453.5 386.3 453.9 384.4 454.4C382.5 454.9 381.5 454.9 379.6 455.2C377.7 455.5 376.7 455.6 374.8 455.7C372.9 455.8 372.1 455.6 370 455.7C367.9 455.8 366.6 456 364.4 456.3C362.2 456.6 361.2 457 358.8 457.3C356.4 457.6 355 457.6 352.4 457.9C349.8 458.2 348.6 458.4 346 458.9C343.4 459.4 341.8 459.8 339.6 460.5C337.4 461.1 336.7 461.4 334.8 462.1C332.9 462.7 332 463.5 330 463.7C328 463.9 328 463.4 325 463C322 462.6 319 462.2 315 461.8C311 461.2 309 460.5 305 460.5C301 460.5 299 461.4 295 461.8C291 462.1 289 462.5 285 462.5C281 462.5 279 462.1 275 461.8C271 461.4 269 460.8 265 460.5C261 460.2 259 460.2 255 460.5C251 460.8 249 461.4 245 461.8C241 462.1 239 462.2 235 462.5C231 462.8 228.8 463.3 225 463C221.2 462.7 219.2 462 216.2 461C213.2 460 212.5 458.9 210 458C207.5 457.1 206.2 456.5 203.8 456.8C201.2 457 200 457.8 197.5 459.2C195 460.8 193.8 462.6 191.2 464.2C188.8 465.9 187.8 466.6 185 467.5C182.2 468.4 180.5 468.1 177.5 468.5C174.5 468.9 173 468.6 170 469.2C167 469.9 165.5 470.4 162.5 471.8C159.5 473.1 157.8 474.9 155 476C152.2 477.1 150 477.2 148.8 477.5L148.8 478.5C150 478.8 152.5 479.1 155 480C157.5 480.9 158.8 481.5 161.2 483C163.8 484.5 165 485.8 167.5 487.5C170 489.2 171.2 490.2 173.8 491.8C176.2 493.2 177.2 494.1 180 495C182.8 495.9 184.5 496.3 187.5 496C190.5 495.7 191.8 494.6 195 493.5C198.2 492.4 200.2 491.4 203.8 490.5C207.2 489.6 208.8 489.6 212.5 489.2C216.2 488.9 218.8 488.8 222.5 488.5C226.2 488.2 228 487.9 231.2 488C234.5 488.1 235.8 488.5 238.8 489.2C241.8 490 243.2 491.1 246.2 491.8C249.2 492.4 250.8 492.8 253.8 492.5C256.8 492.2 258 491.1 261.2 490.5C264.5 489.9 266.2 489.4 270 489.2C273.8 489.1 276 489.6 280 490C284 490.4 286 490.6 290 491C294 491.4 296 491.6 300 491.8C304 491.9 306 492 310 491.8C314 491.5 316.5 490.9 320 490.5C323.5 490.1 325.5 490.2 327.5 490C329.5 489.8 328.5 489.5 330 489.7C331.5 489.8 332.9 490.2 334.8 490.8C336.7 491.4 337.7 492.1 339.6 492.9C341.5 493.6 342.5 494.2 344.4 494.5C346.3 494.8 347.3 494.7 349.2 494.5C351.1 494.3 351.9 493.8 354 493.5C356.1 493.2 357.4 492.9 359.6 492.9C361.8 492.9 363 493 365.2 493.5C367.4 494.1 368.6 494.8 370.8 495.6C373 496.4 374.2 496.9 376.4 497.7C378.6 498.4 379.8 498.6 382 499.3C384.2 499.9 385.4 500.2 387.6 500.9C389.8 501.6 391 501.9 393.2 502.8C395.4 503.7 396.7 504.2 398.8 505.2C400.9 506.2 401.7 506.5 403.6 507.6C405.5 508.7 406.6 509.4 408.4 510.5C410.2 511.6 411 512.2 412.4 513.2C413.8 514.2 414.8 515.1 415.6 515.6C416.4 516.1 416.1 515 416.5 515.5C416.9 516 417.7 517 417.7 518C417.7 519 417.1 519.7 416.4 520.7C415.7 521.8 415.1 522.3 414 523.3C412.9 524.2 412.2 524.6 410.8 525.5C409.4 526.5 408.6 527.1 406.8 528.1C405 529 403.9 529.5 402 530.3C400.1 531.2 399.3 531.6 397.2 532.4C395.1 533.2 393.8 533.7 391.6 534.5C389.4 535.2 388.2 535.4 386 536.1C383.8 536.7 382.6 537.1 380.4 537.7C378.2 538.2 377 538.4 374.8 538.8C372.6 539.2 371.4 539.5 369.2 539.9C367 540.3 366 540.5 363.6 540.9C361.2 541.3 359.8 541.6 357.2 542C354.6 542.4 353.4 542.7 350.8 543.1C348.2 543.5 347 543.7 344.4 544.1C341.8 544.5 340.9 544.7 338 545.2C335.1 545.7 332.6 546.5 330 546.8C327.4 547.1 328 546.5 325 546.8C322 547 319 547.8 315 548C311 548.2 309 548 305 548C301 548 299 547.9 295 548C291 548.1 289 548.2 285 548.5C281 548.8 279 548.9 275 549.2C271 549.6 269 550 265 550.5C261 551 259 551.6 255 551.8C251 551.9 249 551.1 245 551C241 550.9 239 551 235 551C231 551 229 551.1 225 551C221 550.9 218.8 551 215 550.5C211.2 550 209.2 549.4 206.2 548.5C203.2 547.6 202.5 546.7 200 546C197.5 545.3 196.2 545 193.8 545C191.2 545 190.2 545.1 187.5 546C184.8 546.9 183 547.6 180 549.2C177 550.9 175.8 552.4 172.5 554.2C169.2 556.1 167.2 557.1 163.8 558.5C160.2 559.9 158.5 560.2 155 561C151.5 561.8 148 561.7 146.2 562.2C144.5 562.8 146.2 563.4 146.2 563.7L145 563.7 Z"/>
<clipPath id="dc2"><use href="#den2"/></clipPath>
<filter id="bgblur" x="-5%" y="-20%" width="110%" height="140%" color-interpolation-filters="sRGB"><feGaussianBlur stdDeviation="5"/></filter>
<filter id="soft" x="-2%" y="-2%" width="104%" height="104%"><feGaussianBlur stdDeviation="0.45"/></filter>
<linearGradient id="cbar" x1="0" y1="0" x2="0" y2="1">
<stop offset="0" stop-color="#ea4f2d"/>
<stop offset="0.06" stop-color="#ec5a30"/>
<stop offset="0.125" stop-color="#ef7536"/>
<stop offset="0.19" stop-color="#f2913d"/>
<stop offset="0.25" stop-color="#f4a341"/>
<stop offset="0.31" stop-color="#f7bf49"/>
<stop offset="0.345" stop-color="#f6d24e"/>
<stop offset="0.375" stop-color="#ebe252"/>
<stop offset="0.41" stop-color="#cfe055"/>
<stop offset="0.45" stop-color="#b0d553"/>
<stop offset="0.5" stop-color="#9bcc55"/>
<stop offset="0.56" stop-color="#8cc862"/>
<stop offset="0.625" stop-color="#80c87c"/>
<stop offset="0.69" stop-color="#70c79a"/>
<stop offset="0.75" stop-color="#57bdb0"/>
<stop offset="0.8" stop-color="#4fa3bd"/>
<stop offset="0.84" stop-color="#4c8cc4"/>
<stop offset="0.875" stop-color="#4a78c0"/>
<stop offset="0.92" stop-color="#4868b4"/>
<stop offset="1" stop-color="#4456a6"/>
</linearGradient>
<marker id="mk" markerWidth="1" markerHeight="1"/>
</defs>
<rect width="1000" height="1362" fill="#fff"/>
<g clip-path="url(#cp0)">
<g filter="url(#cmap)">
<rect x="115" y="14.2" width="805" height="231.3" fill="#000" fill-opacity="0"/>
<g filter="url(#bgblur)">
<rect x="105" y="4.2" width="825" height="82.8" fill="url(#hg00)"/>
<rect x="105" y="87" width="825" height="84" fill="url(#hg01)"/>
<rect x="105" y="171" width="825" height="84.5" fill="url(#hg02)"/>
</g>
<g filter="url(#blur0)" fill="#000" stroke="#000" stroke-width="9.6" stroke-linejoin="round">
<use href="#den0"/>
<use href="#den0" transform="translate(0,-171.3)"/>
<use href="#den0" transform="translate(0,171.3)"/>
</g>
<g filter="url(#bigblur0)" fill="#000" stroke="#000" stroke-width="30" stroke-linejoin="round" opacity="0.85">
<use href="#den0" transform="translate(-30,0)"/>
<use href="#den0" transform="translate(-30,-171.3)"/>
<use href="#den0" transform="translate(-30,171.3)"/>
</g>
</g>
<g filter="url(#soft)">
<use href="#den0" fill="#1e78c6" stroke="#ef8a1e" stroke-width="2.9" style="paint-order:stroke"/>
<use href="#den0" fill="#1e78c6" stroke="#f0e022" stroke-width="1.5" style="paint-order:stroke"/>
<use href="#den0" fill="none" stroke="#4fb4a8" stroke-width="2" clip-path="url(#dc0)"/>
<use href="#den0" fill="none" stroke="#a8d640" stroke-width="0.9"/>
</g>
<ellipse cx="156.3" cy="44.6" rx="3.6" ry="2" fill="#e7211a" stroke="#d8d82a" stroke-width="1"/>
<path d="M145 86.8H639.8" stroke="#1560b0" stroke-opacity="0.35" stroke-width="1" fill="none"/>
<path d="M145 172H635.3" stroke="#1560b0" stroke-opacity="0.35" stroke-width="1" fill="none"/>
</g>
<g clip-path="url(#cp1)">
<g filter="url(#cmap)">
<rect x="115" y="187.8" width="805" height="232.5" fill="#000" fill-opacity="0"/>
<g filter="url(#bgblur)">
<rect x="105" y="177.8" width="825" height="80.2" fill="url(#hg10)"/>
<rect x="105" y="258" width="825" height="87" fill="url(#hg11)"/>
<rect x="105" y="345" width="825" height="85.3" fill="url(#hg12)"/>
</g>
<g filter="url(#blur1)" fill="#000" stroke="#000" stroke-width="9.6" stroke-linejoin="round">
<use href="#den1"/>
<use href="#den1" transform="translate(0,-172.5)"/>
<use href="#den1" transform="translate(0,172.5)"/>
</g>
<g filter="url(#bigblur1)" fill="#000" stroke="#000" stroke-width="30" stroke-linejoin="round" opacity="0.85">
<use href="#den1" transform="translate(-30,0)"/>
<use href="#den1" transform="translate(-30,-172.5)"/>
<use href="#den1" transform="translate(-30,172.5)"/>
</g>
</g>
<g filter="url(#soft)">
<use href="#den1" fill="#1e78c6" stroke="#ef8a1e" stroke-width="2.9" style="paint-order:stroke"/>
<use href="#den1" fill="#1e78c6" stroke="#f0e022" stroke-width="1.5" style="paint-order:stroke"/>
<use href="#den1" fill="none" stroke="#4fb4a8" stroke-width="2" clip-path="url(#dc1)"/>
<use href="#den1" fill="none" stroke="#a8d640" stroke-width="0.9"/>
</g>
<path d="M145 257.6H713.1" stroke="#1560b0" stroke-opacity="0.35" stroke-width="1" fill="none"/>
<path d="M145 346.7H705.7" stroke="#1560b0" stroke-opacity="0.35" stroke-width="1" fill="none"/>
</g>
<g clip-path="url(#cp2)">
<g filter="url(#cmap)">
<rect x="115" y="362.5" width="805" height="231.2" fill="#000" fill-opacity="0"/>
<g filter="url(#bgblur)">
<rect x="105" y="352.5" width="825" height="84.5" fill="url(#hg20)"/>
<rect x="105" y="437" width="825" height="81" fill="url(#hg21)"/>
<rect x="105" y="518" width="825" height="85.7" fill="url(#hg22)"/>
</g>
<g filter="url(#blur2)" fill="#000" stroke="#000" stroke-width="13" stroke-linejoin="round">
<use href="#den2"/>
<use href="#den2" transform="translate(0,-171.2)"/>
<use href="#den2" transform="translate(0,171.2)"/>
</g>
</g>
<g filter="url(#soft)">
<use href="#den2" fill="#1e78c6" stroke="#ef8a1e" stroke-width="2.9" style="paint-order:stroke"/>
<use href="#den2" fill="#1e78c6" stroke="#f0e022" stroke-width="1.5" style="paint-order:stroke"/>
<use href="#den2" fill="none" stroke="#4fb4a8" stroke-width="2" clip-path="url(#dc2)"/>
<use href="#den2" fill="none" stroke="#a8d640" stroke-width="0.9"/>
</g>
<path d="M145 437.4H389" stroke="#1560b0" stroke-opacity="0.35" stroke-width="1" fill="none"/>
<path d="M145 518.3H392.7" stroke="#1560b0" stroke-opacity="0.35" stroke-width="1" fill="none"/>
</g>
<g stroke="#000" fill="none">
<path d="M145 43.5V216.2M890 43.5V216.2" stroke-width="2.2"/>
<path d="M144 44.2H891M144 215.5H891" stroke-width="1.7"/>
<path d="M145 217.1V391M890 217.1V391" stroke-width="2.2"/>
<path d="M144 217.8H891M144 390.3H891" stroke-width="1.7"/>
<path d="M145 391.8V564.4M890 391.8V564.4" stroke-width="2.2"/>
<path d="M144 392.5H891M144 563.7H891" stroke-width="1.7"/>
</g>
<g stroke="#000" stroke-width="1" fill="none">
<path d="M145 44.2v-9M145 563.7v9M145 215.5v8M145 393v-7M167.3 44.2v-4M167.3 563.7v4.5M167.3 215.5v4.5M167.3 393v-4.5M189.6 44.2v-4M189.6 563.7v4.5M189.6 215.5v4.5M189.6 393v-4.5M212 44.2v-4M212 563.7v4.5M212 215.5v4.5M212 393v-4.5M234.3 44.2v-4M234.3 563.7v4.5M234.3 215.5v4.5M234.3 393v-4.5M256.6 44.2v-9M256.6 563.7v9M256.6 215.5v8M256.6 393v-7M278.9 44.2v-4M278.9 563.7v4.5M278.9 215.5v4.5M278.9 393v-4.5M301.2 44.2v-4M301.2 563.7v4.5M301.2 215.5v4.5M301.2 393v-4.5M323.6 44.2v-4M323.6 563.7v4.5M323.6 215.5v4.5M323.6 393v-4.5M345.9 44.2v-4M345.9 563.7v4.5M345.9 215.5v4.5M345.9 393v-4.5M368.2 44.2v-9M368.2 563.7v9M368.2 215.5v8M368.2 393v-7M390.5 44.2v-4M390.5 563.7v4.5M390.5 215.5v4.5M390.5 393v-4.5M412.8 44.2v-4M412.8 563.7v4.5M412.8 215.5v4.5M412.8 393v-4.5M435.2 44.2v-4M435.2 563.7v4.5M435.2 215.5v4.5M435.2 393v-4.5M457.5 44.2v-4M457.5 563.7v4.5M457.5 215.5v4.5M457.5 393v-4.5M479.8 44.2v-9M479.8 563.7v9M479.8 215.5v8M479.8 393v-7M502.1 44.2v-4M502.1 563.7v4.5M502.1 215.5v4.5M502.1 393v-4.5M524.4 44.2v-4M524.4 563.7v4.5M524.4 215.5v4.5M524.4 393v-4.5M546.8 44.2v-4M546.8 563.7v4.5M546.8 215.5v4.5M546.8 393v-4.5M569.1 44.2v-4M569.1 563.7v4.5M569.1 215.5v4.5M569.1 393v-4.5M591.4 44.2v-9M591.4 563.7v9M591.4 215.5v8M591.4 393v-7M613.7 44.2v-4M613.7 563.7v4.5M613.7 215.5v4.5M613.7 393v-4.5M636 44.2v-4M636 563.7v4.5M636 215.5v4.5M636 393v-4.5M658.4 44.2v-4M658.4 563.7v4.5M658.4 215.5v4.5M658.4 393v-4.5M680.7 44.2v-4M680.7 563.7v4.5M680.7 215.5v4.5M680.7 393v-4.5M703 44.2v-9M703 563.7v9M703 215.5v8M703 393v-7M725.3 44.2v-4M725.3 563.7v4.5M725.3 215.5v4.5M725.3 393v-4.5M747.6 44.2v-4M747.6 563.7v4.5M747.6 215.5v4.5M747.6 393v-4.5M770 44.2v-4M770 563.7v4.5M770 215.5v4.5M770 393v-4.5M792.3 44.2v-4M792.3 563.7v4.5M792.3 215.5v4.5M792.3 393v-4.5M814.6 44.2v-9M814.6 563.7v9M814.6 215.5v8M814.6 393v-7M836.9 44.2v-4M836.9 563.7v4.5M836.9 215.5v4.5M836.9 393v-4.5M859.2 44.2v-4M859.2 563.7v4.5M859.2 215.5v4.5M859.2 393v-4.5M881.6 44.2v-4M881.6 563.7v4.5M881.6 215.5v4.5M881.6 393v-4.5M145 52.8h-5.5M890 52.8h5.5M145 70.1h-5.5M890 70.1h5.5M145 87.3h-12M890 87.3h12M145 104.6h-5.5M890 104.6h5.5M145 121.8h-5.5M890 121.8h5.5M145 139.1h-5.5M890 139.1h5.5M145 156.3h-5.5M890 156.3h5.5M145 173.6h-12M890 173.6h12M145 190.8h-5.5M890 190.8h5.5M145 208.1h-5.5M890 208.1h5.5M145 226.4h-5.5M890 226.4h5.5M145 243.7h-5.5M890 243.7h5.5M145 260.9h-12M890 260.9h12M145 278.1h-5.5M890 278.1h5.5M145 295.4h-5.5M890 295.4h5.5M145 312.6h-5.5M890 312.6h5.5M145 329.9h-5.5M890 329.9h5.5M145 347.1h-12M890 347.1h12M145 364.4h-5.5M890 364.4h5.5M145 381.6h-5.5M890 381.6h5.5M145 401.1h-5.5M890 401.1h5.5M145 418.4h-5.5M890 418.4h5.5M145 435.6h-12M890 435.6h12M145 452.9h-5.5M890 452.9h5.5M145 470.1h-5.5M890 470.1h5.5M145 487.4h-5.5M890 487.4h5.5M145 504.6h-5.5M890 504.6h5.5M145 521.9h-12M890 521.9h12M145 539.1h-5.5M890 539.1h5.5M145 556.4h-5.5M890 556.4h5.5"/>
</g>
<rect x="913" y="43" width="26.5" height="521" fill="url(#cbar)"/>
<path d="M939.5 43V564" stroke="#9a8f8a" stroke-width="1" fill="none"/>
<path d="M913 43.3H939.5" stroke="#5a3a30" stroke-width="1" fill="none"/>
<path d="M913 108.3h3M939.5 108.3h-3M913 173.3h6.5M939.5 173.3h-6.5M913 238.3h3M939.5 238.3h-3M913 303.3h6.5M939.5 303.3h-6.5M913 368.3h3M939.5 368.3h-3M913 433.3h6.5M939.5 433.3h-6.5M913 498.3h3M939.5 498.3h-3" stroke="#1a1a1a" stroke-width="1.2" fill="none"/>
<text x="997.5" y="68" font-size="34.5" text-anchor="end">1.0</text>
<text x="997.5" y="185" font-size="34.5" text-anchor="end">0.8</text>
<text x="997.5" y="313.4" font-size="34.5" text-anchor="end">0.6</text>
<text x="997.5" y="439.7" font-size="34.5" text-anchor="end">0.4</text>
<text x="997.5" y="562.4" font-size="34.5" text-anchor="end">0.2</text>
<text x="914" y="28.7" font-size="34.5" font-style="italic">c/c</text>
<text x="958.8" y="37.2" font-size="20">0</text>
<text x="28" y="68.3" font-size="48" font-weight="bold" fill="#000">a</text>
<text x="26.8" y="628.6" font-size="46.5" font-weight="bold" fill="#000">b</text>
<clipPath id="cpb"><rect x="147.2" y="585.6" width="741.4" height="672.8"/></clipPath>
<g fill="none" stroke-linejoin="round" stroke-linecap="butt">
<rect x="147.2" y="585.6" width="741.4" height="672.8" stroke="#000" stroke-width="2.4"/>
<path d="M323.4 585.6v9.5M323.4 1258.4v-9.5M499.6 585.6v9.5M499.6 1258.4v-9.5M675.8 585.6v9.5M675.8 1258.4v-9.5M852 585.6v9.5M852 1258.4v-9.5M147.2 628.2h10M888.6 628.2h-10M147.2 789.9h10M888.6 789.9h-10M147.2 951.6h10M888.6 951.6h-10M147.2 1113.3h10M888.6 1113.3h-10" stroke="#111" stroke-width="1.2"/>
<path d="M147.2 739L888.6 770.3" stroke="#231815" stroke-width="1.7"/>
<path d="M147.2 1244.3L888.6 1080.6" stroke="#231815" stroke-width="1.9"/>
<g>
<path d="M147.5 1215.5C148.4 1215.4 150.6 1215.4 152 1215C153.4 1214.6 153.6 1216.5 154.3 1213.5C155 1210.5 155 1212.7 155.5 1200C156 1187.3 156.3 1178 157 1150C157.7 1122 158.4 1100 159 1060C159.6 1020 159.6 994 160 950C160.4 906 160.6 872 161 840C161.4 808 161.5 805 161.8 790C162.1 775 162.2 771.9 162.5 765C162.8 758.1 163 756.5 163.5 755.5C164 754.5 164.3 757.5 164.8 760C165.3 762.5 165.4 765.5 166 768C166.6 770.5 166.8 771.2 168 772.5C169.2 773.8 170 774 172 774.5C174 775 174.4 774.9 178 774.8C181.6 774.7 185.6 774.3 190 773.8C194.4 773.3 196 772.8 200 772.2C204 771.6 204 771.4 210 771C216 770.6 222 770.3 230 770C238 769.7 242 769.6 250 769.6C258 769.6 262 770.1 270 770C278 769.9 282 769 290 769C298 769 302 769.5 310 770C318 770.5 323.6 770.6 330 771.6C336.4 772.6 338 773.4 342 775C346 776.6 346.8 779 350 779.5C353.2 780 354.4 778.6 358 777.5C361.6 776.4 363.6 775 368 774C372.4 773 374.2 772.8 380 772.6C385.8 772.4 390.2 772.9 397 773C403.8 773.1 407.2 772.4 414 773C420.8 773.6 424.7 775.1 431 776.2C437.3 777.3 439.7 777.5 445.5 778.6C451.3 779.7 454.2 779.9 460 781.5C465.8 783.1 468.7 784.1 474.5 786.4C480.3 788.7 485 791.2 489 793.2C493 795.2 492.3 794.9 494.5 796.4C496.7 797.9 497.5 798 500 800.6C502.5 803.2 504.2 805.6 507 809.5C509.8 813.4 510.6 813.9 514 820C517.4 826.1 520.3 832 524 840C527.7 848 528.6 851.2 532.4 860C536.2 868.8 538.9 874.4 543.2 884C547.5 893.6 550.2 898.4 554 908C557.8 917.6 559.3 922.4 562.4 932C565.5 941.6 566.7 946.4 569.6 956C572.5 965.6 573.7 970.4 576.8 980C579.9 989.6 581.4 994.4 585.2 1004C589 1013.6 591.4 1019.4 596 1028C600.6 1036.6 603.2 1041.2 608 1047.2C612.8 1053.2 615.2 1054.9 620 1058C624.8 1061.1 627.2 1061.5 632 1062.8C636.8 1064.1 636.4 1064.1 644 1064.5C651.6 1064.9 664.8 1064.7 670 1064.7" stroke="#8b0000" stroke-width="4"/>
<path d="M147.3 1171.6C147.4 1177.3 147.5 1191.7 147.8 1200C148.1 1208.3 147.8 1210 148.6 1213C149.4 1216 150.1 1214.3 152 1215C153.9 1215.7 156 1215.9 158 1216.5C160 1217.1 160.8 1218 162 1217.9C163.2 1217.8 163.6 1217.6 164.2 1216C164.8 1214.4 164.6 1217.2 165 1210C165.4 1202.8 165.6 1202 166 1180C166.4 1158 166.6 1136 167 1100C167.4 1064 167.7 1040 168 1000C168.3 960 168.3 932 168.5 900C168.7 868 168.8 860 169 840C169.2 820 169.3 813 169.5 800C169.7 787 169.8 782 170 775C170.2 768 170.4 767.5 170.7 765C171 762.5 171 762.7 171.5 762.5C172 762.3 172.3 763.3 173 764C173.7 764.7 173.6 765.2 175 766C176.4 766.8 177 767.4 180 768C183 768.6 186 768.8 190 769C194 769.2 194 768.8 200 769C206 769.2 212.8 769.6 220 770C227.2 770.4 230.8 770.1 236 771C241.2 771.9 242.6 773.5 246 774.4C249.4 775.3 250.2 775.8 253 775.6C255.8 775.4 256.6 774.3 260 773.6C263.4 772.9 265.2 771.7 270 772C274.8 772.3 279.6 774.2 284 775C288.4 775.8 288.8 776.5 292 776C295.2 775.5 296.4 773.5 300 772.4C303.6 771.3 304 770.7 310 770.4C316 770.1 322 770.5 330 771C338 771.5 341.5 772.3 350 773C358.5 773.7 363.3 774.5 372.7 774.7C382.1 774.9 389.7 773.6 397 773.8C404.3 774 404.2 774.5 409 775.5C413.8 776.5 415.6 777.6 421 779C426.4 780.4 429.9 781.5 435.8 782.7C441.7 783.9 444.5 784.2 450.3 785.2C456.1 786.2 460.2 787.1 465 787.6C469.8 788.1 470.2 787.9 474.5 787.6C478.8 787.3 481.6 786 486.7 785.9C491.8 785.8 495.3 786.2 500 787C504.7 787.8 506 788.8 510 790C514 791.2 516.6 792.2 520 793C523.4 793.8 524 794 527 794C530 794 532 793.7 535 793C538 792.3 539.6 791.1 542 790.5C544.4 789.9 545.4 789.7 547 790C548.6 790.3 548.8 790.6 550 792C551.2 793.4 551.8 794.4 553 797C554.2 799.6 554.6 800.8 556 805C557.4 809.2 557.2 810 560 818C562.8 826 566.8 836.6 570 845C573.2 853.4 572.8 852.2 575.8 860C578.8 867.8 581.2 874.4 585.2 884C589.2 893.6 591.9 898.4 596 908C600.1 917.6 602 922.4 605.6 932C609.2 941.6 610.4 946.4 614 956C617.6 965.6 619.5 970.4 623.6 980C627.7 989.6 629.8 994.4 634.4 1004C639 1013.6 641.4 1019.8 646.4 1028C651.4 1036.2 654.3 1039.3 659.6 1044.8C664.9 1050.3 667.3 1052.2 672.8 1055.6C678.3 1059 681.4 1060.3 687.2 1062C693 1063.7 694 1063.7 701.6 1064.2C709.2 1064.7 720.3 1064.6 725 1064.7" stroke="#006400" stroke-width="4"/>
<path d="M147.6 1118C147.9 1112.4 148.3 1101.6 149 1090C149.7 1078.4 150.2 1078 151 1060C151.8 1042 152.2 1024 153 1000C153.8 976 154.3 972 155 940C155.7 908 156 865 156.5 840C157 815 157.1 824 157.5 815C157.9 806 158 801.8 158.5 795C159 788.2 159.3 785.4 160 781C160.7 776.6 161.1 775.4 162 773C162.9 770.6 163.3 770.2 164.5 769C165.7 767.8 166.1 767.7 168 767C169.9 766.3 171.2 766 174 765.6C176.8 765.2 176.8 765.1 182 765C187.2 764.9 192.4 765 200 765.2C207.6 765.4 210 765.5 220 766C230 766.5 240 766.6 250 767.6C260 768.6 263.2 769.3 270 771C276.8 772.7 278 773.5 284 776C290 778.5 294.4 780 300 783.5C305.6 787 307.3 788.2 312.1 793.6C316.9 799 319.3 802.4 324.2 810.6C329.1 818.8 331.5 823.6 336.4 834.8C341.3 846 343.7 851.8 348.5 866.4C353.3 881 355.8 889.7 360.6 907.6C365.4 925.5 367.9 938.1 372.7 956C377.5 973.9 379.9 983.2 384.8 997.3C389.7 1011.4 392.2 1016.7 397 1026.4C401.8 1036.1 404.2 1039.7 409 1045.8C413.8 1051.9 416.3 1053.4 421.2 1056.7C426.1 1060 428.4 1060.7 433.3 1062.2C438.2 1063.7 438.2 1063.7 445.5 1064.2C452.8 1064.7 458.8 1064.7 469.7 1064.8C480.6 1064.9 493.9 1064.7 500 1064.7H770" stroke="#00008b" stroke-width="4"/>
</g>
<path d="M769 1064.7H888.6" stroke="#231815" stroke-width="4.6"/>
<g stroke-width="1.9" stroke-dasharray="7.3 7.3">
<path d="M147.2 766L888.6 808.8" stroke="#0b6b3c"/>
<path d="M147.2 765L888.6 786.4" stroke="#c8102e"/>
<path d="M147.2 765.4L888.6 775.2" stroke="#1b1b6f"/>
</g>
<g stroke-width="1.9" stroke-dasharray="7.2 7.2">
<path d="M489.7 769V1258.4" stroke="#1b1b6f" stroke-dashoffset="4.4"/>
<path d="M725 781.5V1258.4" stroke="#c8102e"/>
<path d="M781.2 802.5V1258.4" stroke="#0b6b3c"/>
</g>
<g stroke="#231815" stroke-width="1.2" stroke-dasharray="4 3">
<path d="M888.6 1103.5H791.8V1258.4"/>
<path d="M888.6 1089.3H853.6V1258.4"/>
</g>
<path d="M489.8 1179.6L532.2 1207.5" stroke="#1b2a6f" stroke-width="2"/>
<path d="M541 1213.3 L526 1209.8 L532.2 1207.5 L531.8 1200.9 Z" fill="#1b2a6f" stroke="none"/>
<path d="M781.2 1162.4L684.7 1210.5" stroke="#0b7a3c" stroke-width="2"/>
<path d="M675.3 1215.2 L685.9 1204 L684.7 1210.5 L690.6 1213.5 Z" fill="#0b7a3c" stroke="none"/>
<path d="M725.1 1255.5L687.9 1235.7" stroke="#c8102e" stroke-width="2"/>
<path d="M678.6 1230.8 L693.9 1232.9 L687.9 1235.7 L688.9 1242.3 Z" fill="#c8102e" stroke="none"/>
<path d="M439.5 626H521.5" stroke="#8b0000" stroke-width="3.2"/>
<path d="M439.5 665.2H521.5" stroke="#006400" stroke-width="3.2"/>
<path d="M439.5 705H521.5" stroke="#00008b" stroke-width="3.2"/>
</g>
<text x="147.7" y="1301" font-size="36" text-anchor="middle">0</text>
<text x="323.9" y="1301" font-size="36" text-anchor="middle">500</text>
<text x="500.1" y="1301" font-size="36" text-anchor="middle">1000</text>
<text x="676.3" y="1301" font-size="36" text-anchor="middle">1500</text>
<text x="888.5" y="1301" font-size="36" text-anchor="end">2000</text>
<text x="131.3" y="640.2" font-size="36" text-anchor="end">1.2</text>
<text x="131.3" y="801.9" font-size="36" text-anchor="end">0.9</text>
<text x="131.3" y="963.6" font-size="36" text-anchor="end">0.6</text>
<text x="131.3" y="1125.3" font-size="36" text-anchor="end">0.3</text>
<text x="539.5" y="634.4" font-size="29.5">NTND for Al - 3.0% Cu</text>
<text x="539.5" y="674.3" font-size="29.5">WTND for Al - 3.0% Cu</text>
<text x="539.5" y="714.2" font-size="29.5">WTWD for Al - 3.0% Cu</text>
<text x="464.8" y="1350.4" font-size="36" font-style="italic">y</text>
<text x="490.4" y="1350.4" font-size="36">/</text>
<text x="507.6" y="1350.4" font-size="36">δ</text>
<text x="524.6" y="1350.4" font-size="36" font-style="italic">x</text>
<g transform="translate(46.5,1093.5) rotate(-90)" font-size="39">
<text x="0" y="0">concentration,</text>
<text x="230.5" y="0" font-style="italic">c</text>
<text x="257.5" y="0">(</text>
<text x="271.5" y="0" font-style="italic">c</text>
<text x="288" y="12.5" font-size="22">l</text>
<text x="294" y="-13" font-size="22">0</text>
<text x="305.5" y="0">)</text>
</g>
<text x="290.5" y="727.2" font-size="32" font-style="italic">c</text>
<text x="304" y="738.6" font-size="18">0</text>
<text x="314.5" y="716" font-size="17">l</text>
<text x="319" y="727.2" font-size="32">(<tspan font-style="italic">T</tspan>)</text>
<text x="629" y="1096.6" font-size="32" font-style="italic">c</text>
<text x="645" y="1107.8" font-size="19">0</text>
<text x="897" y="1097.6" font-size="32" font-style="italic">T</text>
<text x="913.5" y="1107" font-size="19">L</text>
<text x="925" y="1097.6" font-size="32">(<tspan font-style="italic">c</tspan></text>
<text x="951" y="1107.5" font-size="19">0</text>
<text x="960" y="1097.6" font-size="32">)</text>
<text x="812" y="1136" font-size="32" font-style="italic">T</text>
<text x="829.5" y="1147.8" font-size="19">N</text>
<text x="542" y="1229.1" font-size="21.5" textLength="128" lengthAdjust="spacingAndGlyphs">columnar front</text>
<text x="892.3" y="775.5" font-size="26.5" font-style="italic">c</text>
<text x="905" y="766" font-size="15.5">l</text>
<text x="913" y="775.5" font-size="27">(III-III)</text>
<text x="892.3" y="801.6" font-size="26.5" font-style="italic">c</text>
<text x="905" y="792.1" font-size="15.5">l</text>
<text x="913" y="801.6" font-size="27">(I-I)</text>
<text x="892.3" y="827.7" font-size="26.5" font-style="italic">c</text>
<text x="905" y="818.2" font-size="15.5">l</text>
<text x="913" y="827.7" font-size="27">(II-II)</text>
<g transform="translate(240,1206.8) rotate(-12.3)" font-size="28">
<text transform="translate(0,0) skewX(-6)" font-style="italic">T</text>
<text transform="translate(45.4,0) skewX(-6)" font-style="italic">T</text>
<text transform="translate(143.3,0) skewX(-6)" font-style="italic">y</text>
<text transform="translate(179,0) skewX(-6)" font-style="italic">V</text>
<text transform="translate(205.5,0) skewX(-6)" font-style="italic">t</text>
<text x="22.6" y="0">=</text>
<text x="61" y="8" font-size="17">ref</text>
<text x="84" y="0">+ G (</text>
<text x="162.7" y="0">-</text>
<text x="197.5" y="8" font-size="17">p</text>
<text x="213.3" y="0">)</text>
</g>
</svg>
</body></html>
